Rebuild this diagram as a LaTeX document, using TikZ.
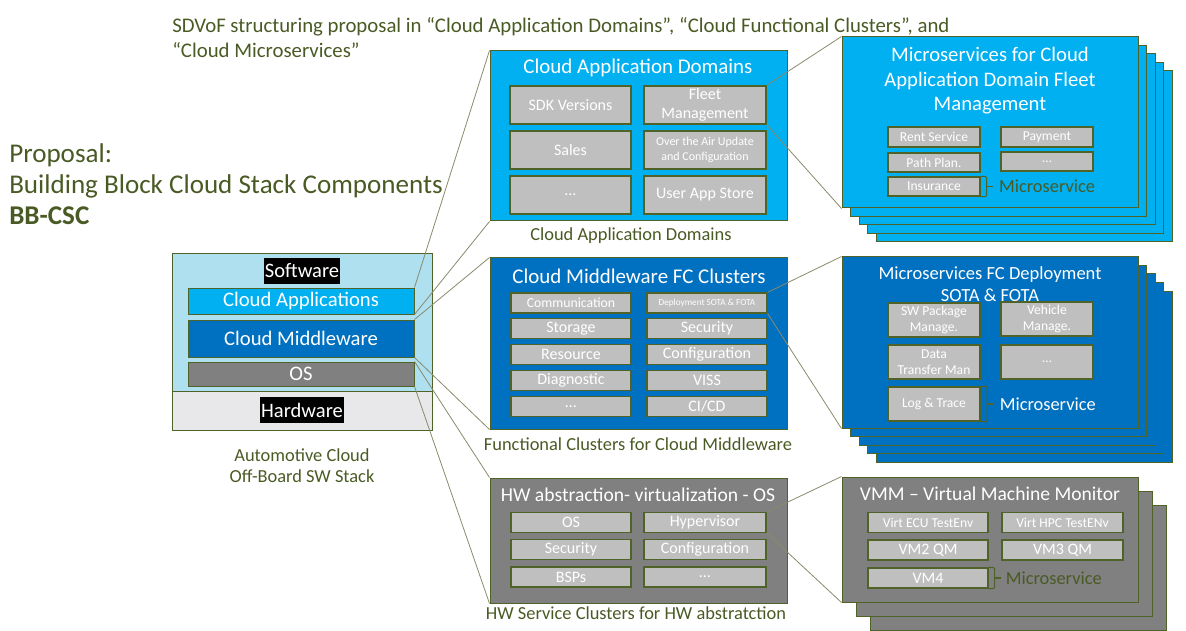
\documentclass[tikz,border=0pt]{standalone}
\usepackage{fontspec}
\setmainfont{Carlito}
\usepackage{xcolor}
\definecolor{olive}{HTML}{4F6228}
\definecolor{olivetext}{HTML}{4A5A24}
\definecolor{connline}{HTML}{8A8A6C}
\definecolor{appblue}{HTML}{00B0F0}
\definecolor{mwblue}{HTML}{0070C0}
\definecolor{osgray}{HTML}{808080}
\definecolor{cellgray}{HTML}{BFBFBF}
\definecolor{stackblue}{HTML}{AEE0F0}
\definecolor{hwgray}{HTML}{E8E8EA}
\newcommand{\fsz}[2]{\fontsize{#1}{#2}\selectfont}

\begin{document}
\begin{tikzpicture}[x=0.75pt,y=-0.75pt,
  wh/.style 2 args={minimum width=#1*0.75pt,minimum height=#2*0.75pt},
  box/.style={draw=olive,line width=0.75pt,inner sep=0pt,text=white,align=center},
  cell/.style={draw=olive,fill=cellgray,line width=0.9pt,inner sep=0pt,text=white,
               align=center,font=\fsz{12}{14.3}},
  cellsm/.style={font=\fsz{10.2}{12.2}},
  ttl/.style={text=white,align=center,inner sep=0pt},
  captxt/.style={text=olivetext,align=center,inner sep=0pt,font=\fsz{13.8}{15.75}},
  tag/.style={fill=black,text=white,inner xsep=1pt,minimum height=19pt,font=\fsz{15.4}{18}},
  conn/.style={draw=connline,line width=0.6pt},
  brk/.style={draw=olive,line width=0.8pt,rounded corners=1pt},
  ms/.style={anchor=west,inner sep=0pt,xshift=4.5pt,font=\fsz{13.8}{16}}]
\useasboundingbox (0,0) rectangle (1186,631);

% headline and proposal
\node[anchor=north west,inner sep=0pt,align=left,text=olivetext,font=\fsz{15.6}{18.75}]
  (head) at (172,17) {SDVoF structuring proposal in “Cloud Application Domains”, “Cloud Functional Clusters”, and\\“Cloud Microservices”};
\node[anchor=north west,inner sep=0pt,align=left,text=olivetext,font=\fsz{20.3}{23.25}]
  (prop) at (9,143) {Proposal:\\Building Block Cloud Stack Components\\\textbf{BB-CSC}};

% off-board stack
\node[box,fill=stackblue,wh={260}{137}] (sw) at (302,322.5) {};
\node[box,fill=hwgray,wh={260}{39}] (hw) at (302,410.5) {};
\node[tag] (swtag) at (302,271) {Software};
\node[tag] (hwtag) at (302,410) {Hardware};
\node[box,fill=appblue,font=\fsz{15.5}{18},wh={226}{26}] (app) at (301,301) {Cloud Applications};
\node[box,fill=mwblue,font=\fsz{15.5}{18},wh={226}{37}] (mw) at (301,338.5) {Cloud Middleware};
\node[box,fill=osgray,font=\fsz{15.5}{18},wh={226}{24}] (os) at (301,374) {OS};
\node[captxt] (stackcap) at (302,466) {Automotive Cloud\\Off-Board SW Stack};

% cloud application domains
\node[box,fill=appblue,wh={297}{170}] (cad) at (638.5,136) {};
\node[ttl,font=\fsz{15.7}{18}] (cadttl) at (638,68) {Cloud Application Domains};
\node[cell,wh={121}{38}] (sdk) at (570.5,105) {SDK Versions};
\node[cell,wh={122}{38}] (fleet) at (705,105) {Fleet\\Management};
\node[cell,wh={121}{38}] (sales) at (570.5,150) {Sales};
\node[cell,wh={122}{38},font=\fsz{9}{11.25}] (ota) at (705,150) {Over the Air Update\\and Configuration};
\node[cell,wh={121}{38}] (cadmore) at (570.5,195) {…};
\node[cell,wh={122}{38}] (store) at (705,195) {User App Store};
\node[captxt] (cadcap) at (631,236) {Cloud Application Domains};

% cloud middleware clusters
\node[box,fill=mwblue,wh={297}{171}] (fcc) at (638.5,343.5) {};
\node[ttl,font=\fsz{15.7}{18}] (fccttl) at (639,276) {Cloud Middleware FC Clusters};
\node[cell,wh={120}{20},font=\fsz{10.3}{12}] (comm) at (571,303) {Communication};
\node[cell,wh={120}{20},font=\fsz{6.9}{8}] (deploy) at (707,303) {Deployment SOTA \& FOTA};
\node[cell,wh={120}{19.5}] (stor) at (571,328.5) {Storage};
\node[cell,wh={120}{19.5}] (sec) at (707,328.5) {Security};
\node[cell,wh={120}{19.5}] (res) at (571,354.5) {Resource};
\node[cell,wh={120}{19.5}] (conf) at (707,354.5) {Configuration};
\node[cell,wh={120}{19.5}] (diag) at (571,380.5) {Diagnostic};
\node[cell,wh={120}{19.5}] (viss) at (707,380.5) {VISS};
\node[cell,wh={120}{19.5}] (fcmore) at (571,406.5) {…};
\node[cell,wh={120}{19.5}] (cicd) at (707,406.5) {CI/CD};
\node[captxt] (fcccap) at (638,444) {Functional Clusters for Cloud Middleware};

% hw abstraction
\node[box,fill=osgray,wh={297}{125}] (hwa) at (638.5,540.5) {};
\node[ttl,font=\fsz{14.7}{17}] (hwattl) at (638,495) {HW abstraction- virtualization - OS};
\node[cell,wh={120}{19.5}] (hos) at (571,522.5) {OS};
\node[cell,wh={122}{19.5}] (hyp) at (705,522.5) {Hypervisor};
\node[cell,wh={120}{19.5}] (hsec) at (571,549.5) {Security};
\node[cell,wh={122}{19.5}] (hconf) at (705,549.5) {Configuration};
\node[cell,wh={120}{20}] (bsp) at (571,577) {BSPs};
\node[cell,wh={122}{20}] (hmore) at (705,577) {…};
\node[captxt] (hwacap) at (636,613) {HW Service Clusters for HW abstratction};

% microservices fleet management
\foreach \i in {4,3,2,1}
  \draw[box,fill=appblue] (842+8.5*\i,37+8.5*\i) rectangle (1138+8.5*\i,208+8.5*\i);
\node[box,fill=appblue,wh={296}{171}] (msfleet) at (990,122.5) {};
\node[ttl,font=\fsz{15.5}{18.4}] (msfleetttl) at (990,81) {Microservices for Cloud\\Application Domain Fleet\\Management};
\node[cell,cellsm,wh={92}{20}] (rent) at (934,137) {Rent Service};
\node[cell,cellsm,wh={92}{20}] (pay) at (1047,137) {Payment};
\node[cell,cellsm,wh={92}{19}] (path) at (934,162.5) {Path Plan.};
\node[cell,cellsm,wh={92}{19}] (fmore) at (1047,161.5) {…};
\node[cell,cellsm,wh={92}{19}] (ins) at (934,186.5) {Insurance};
\draw[brk] (ins.north east) -| ([xshift=4.5pt]ins.east) |- (ins.south east);
\draw[brk] ([xshift=4.5pt]ins.east) -- ++(6,0) node[ms,text=olivetext] (msins) {Microservice};

% microservices deployment
\foreach \i in {4,3,2,1}
  \draw[box,fill=mwblue] (842+8.5*\i,257+8.5*\i) rectangle (1138+8.5*\i,428+8.5*\i);
\node[box,fill=mwblue,wh={296}{171}] (msdep) at (990,342.5) {};
\node[ttl,font=\fsz{13.9}{16.5}] (msdepttl) at (990,284) {Microservices FC Deployment\\SOTA \& FOTA};
\node[cell,cellsm,wh={92}{34}] (swpkg) at (934,320) {SW Package\\Manage.};
\node[cell,cellsm,wh={92}{34}] (veh) at (1047,319) {Vehicle\\Manage.};
\node[cell,cellsm,wh={92}{34}] (data) at (934,362) {Data\\Transfer Man};
\node[cell,cellsm,wh={92}{34}] (dmore) at (1047,362) {…};
\node[cell,cellsm,wh={92}{34}] (log) at (934,404) {Log \& Trace};
\draw[brk] (log.north east) -| ([xshift=5pt]log.east) |- (log.south east);
\draw[brk] ([xshift=5pt]log.east) -- ++(6,0) node[ms,text=white] (mslog) {Microservice};

% virtual machine monitor
\foreach \i in {2,1}
  \draw[box,fill=osgray] (842+14*\i,477+14*\i) rectangle (1138+14*\i,602+14*\i);
\node[box,fill=osgray,wh={296}{125}] (vmm) at (990,539.5) {};
\node[ttl,font=\fsz{14.7}{17}] (vmmttl) at (990,494) {VMM – Virtual Machine Monitor};
\node[cell,cellsm,wh={120}{19.5}] (ecu) at (928,522.5) {Virt ECU TestEnv};
\node[cell,cellsm,wh={121}{19.5}] (hpc) at (1062.5,522.5) {Virt HPC TestENv};
\node[cell,wh={120}{20}] (vm2) at (928,550) {VM2 QM};
\node[cell,wh={121}{20}] (vm3) at (1062.5,550) {VM3 QM};
\node[cell,wh={120}{20}] (vm4) at (928,578) {VM4};
\draw[brk] (vm4.north east) -| ([xshift=4.5pt]vm4.east) |- (vm4.south east);
\draw[brk] ([xshift=4.5pt]vm4.east) -- ++(6,0) node[ms,text=olivetext,xshift=-1pt] (msvm) {Microservice};

% zoom lines
\draw[conn] (app.north east) -- (cad.north west);
\draw[conn] (app.south east) -- (cad.south west);
\draw[conn] (mw.north east) -- (fcc.north west);
\draw[conn] (mw.south east) -- (fcc.south west);
\draw[conn] (os.north east) -- (hwa.north west);
\draw[conn] (os.south east) -- (hwa.south west);
\draw[conn] (fleet.north east) -- (msfleet.north west);
\draw[conn] (fleet.south east) -- (msfleet.south west);
\draw[conn] (deploy.north east) -- (msdep.north west);
\draw[conn] (deploy.south east) -- (msdep.south west);
\draw[conn] (hyp.north east) -- (vmm.north west);
\draw[conn] (hyp.south east) -- (vmm.south west);
\end{tikzpicture}
\end{document}
